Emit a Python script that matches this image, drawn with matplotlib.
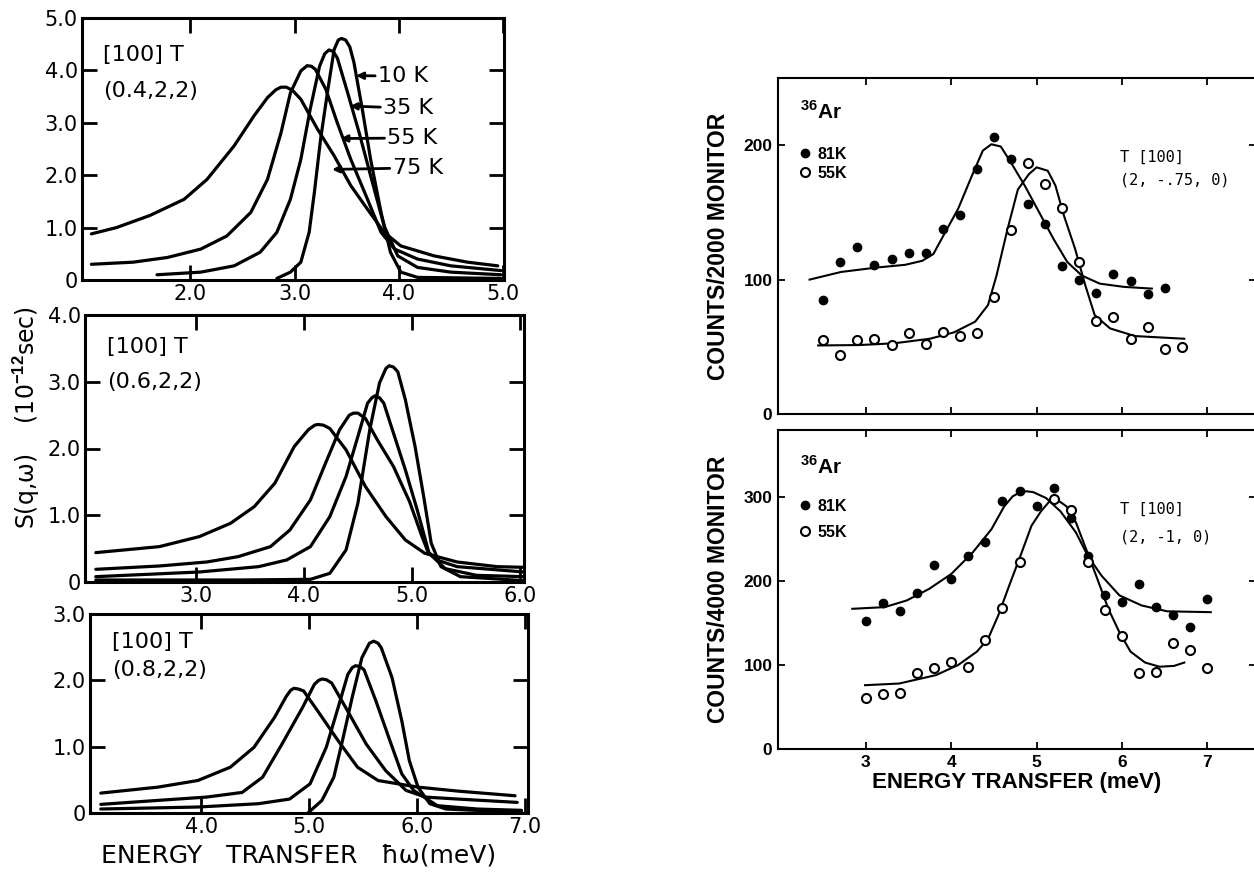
import matplotlib.pyplot as plt
import numpy as np

plt.rcParams['mathtext.fontset'] = 'custom'
plt.rcParams['mathtext.rm'] = 'Liberation Sans:bold'
plt.rcParams['mathtext.bf'] = 'Liberation Sans:bold'

# ---------------- left column: calculated line shapes ----------------
temps = ["10 K", "35 K", "55 K", "75 K"]

# (0.4,2,2)
p1_10K_x = [2.83, 2.96, 3.06, 3.14, 3.19, 3.25, 3.32, 3.38, 3.42, 3.45, 3.49, 3.53, 3.57, 3.65, 3.73, 3.83, 3.92, 4.02, 4.18, 4.98]
p1_10K_y = [0.03, 0.15, 0.34, 0.91, 1.67, 2.69, 3.64, 4.40, 4.58, 4.61, 4.58, 4.45, 4.15, 3.26, 2.30, 1.29, 0.53, 0.15, 0.05, 0.03]
p1_35K_x = [1.68, 2.10, 2.42, 2.67, 2.83, 2.96, 3.06, 3.15, 3.24, 3.29, 3.33, 3.37, 3.41, 3.51, 3.62, 3.73, 3.86, 3.99, 4.18, 4.50, 4.98]
p1_35K_y = [0.10, 0.15, 0.27, 0.53, 0.91, 1.54, 2.30, 3.26, 4.08, 4.32, 4.39, 4.36, 4.24, 3.57, 2.81, 1.99, 1.03, 0.46, 0.24, 0.15, 0.10]
p1_55K_x = [1.05, 1.45, 1.78, 2.10, 2.35, 2.58, 2.74, 2.87, 2.96, 3.06, 3.12, 3.16, 3.20, 3.30, 3.41, 3.54, 3.70, 3.83, 3.96, 4.18, 4.50, 4.98]
p1_55K_y = [0.30, 0.34, 0.43, 0.59, 0.84, 1.29, 1.92, 2.81, 3.57, 3.99, 4.09, 4.08, 4.02, 3.64, 3.00, 2.30, 1.54, 0.91, 0.59, 0.40, 0.27, 0.18]
p1_75K_x = [1.05, 1.29, 1.61, 1.94, 2.16, 2.42, 2.61, 2.74, 2.82, 2.87, 2.92, 2.98, 3.06, 3.22, 3.38, 3.54, 3.70, 3.86, 4.02, 4.34, 4.66, 4.95]
p1_75K_y = [0.88, 1.00, 1.23, 1.54, 1.92, 2.56, 3.13, 3.48, 3.63, 3.68, 3.68, 3.62, 3.45, 2.88, 2.37, 1.80, 1.35, 0.91, 0.65, 0.46, 0.34, 0.27]

# (0.6,2,2)
p2_10K_x = [2.07, 3.39, 4.06, 4.24, 4.39, 4.50, 4.61, 4.70, 4.76, 4.79, 4.83, 4.87, 4.94, 5.03, 5.11, 5.18, 5.27, 5.45, 6.04]
p2_10K_y = [0.03, 0.03, 0.04, 0.13, 0.48, 1.18, 2.28, 2.98, 3.20, 3.24, 3.22, 3.15, 2.73, 2.03, 1.28, 0.58, 0.23, 0.08, 0.02]
p2_35K_x = [2.07, 3.03, 3.58, 3.84, 4.06, 4.24, 4.39, 4.50, 4.59, 4.63, 4.66, 4.70, 4.74, 4.83, 4.94, 5.05, 5.16, 5.31, 5.60, 6.04]
p2_35K_y = [0.08, 0.15, 0.23, 0.33, 0.53, 0.98, 1.58, 2.18, 2.68, 2.76, 2.79, 2.76, 2.68, 2.23, 1.68, 1.08, 0.43, 0.20, 0.10, 0.08]
p2_55K_x = [2.07, 2.66, 3.10, 3.39, 3.69, 3.87, 4.06, 4.20, 4.33, 4.42, 4.46, 4.50, 4.57, 4.68, 4.83, 4.98, 5.09, 5.15, 5.25, 5.42, 6.04]
p2_55K_y = [0.19, 0.24, 0.30, 0.38, 0.53, 0.78, 1.23, 1.78, 2.28, 2.50, 2.53, 2.53, 2.45, 2.13, 1.73, 1.20, 0.70, 0.45, 0.32, 0.23, 0.15]
p2_75K_x = [2.07, 2.66, 3.03, 3.32, 3.54, 3.73, 3.91, 4.04, 4.10, 4.13, 4.18, 4.24, 4.39, 4.57, 4.76, 4.94, 5.12, 5.42, 5.79, 6.04]
p2_75K_y = [0.44, 0.53, 0.68, 0.88, 1.13, 1.48, 2.03, 2.28, 2.35, 2.36, 2.35, 2.30, 1.98, 1.43, 0.98, 0.63, 0.43, 0.30, 0.23, 0.22]

# (0.8,2,2)
p3_10K_x = [4.99, 5.12, 5.23, 5.31, 5.40, 5.49, 5.56, 5.60, 5.64, 5.67, 5.77, 5.86, 5.93, 6.01, 6.12, 6.27, 6.97]
p3_10K_y = [0.00, 0.19, 0.54, 1.09, 1.74, 2.34, 2.56, 2.59, 2.56, 2.49, 2.04, 1.39, 0.79, 0.39, 0.14, 0.06, 0.01]
p3_35K_x = [3.07, 3.97, 4.53, 4.82, 5.01, 5.16, 5.27, 5.36, 5.40, 5.43, 5.47, 5.51, 5.62, 5.75, 5.86, 5.97, 6.19, 6.56, 6.97]
p3_35K_y = [0.06, 0.09, 0.14, 0.21, 0.44, 0.99, 1.59, 2.09, 2.19, 2.22, 2.21, 2.16, 1.69, 1.09, 0.59, 0.34, 0.11, 0.06, 0.04]
p3_55K_x = [3.07, 3.60, 4.05, 4.38, 4.57, 4.75, 4.94, 5.05, 5.09, 5.12, 5.16, 5.21, 5.34, 5.53, 5.71, 5.90, 6.08, 6.38, 6.93]
p3_55K_y = [0.13, 0.19, 0.24, 0.31, 0.54, 1.04, 1.59, 1.94, 2.00, 2.02, 2.01, 1.96, 1.59, 1.04, 0.64, 0.34, 0.24, 0.21, 0.16]
p3_75K_x = [3.07, 3.60, 3.97, 4.27, 4.49, 4.68, 4.79, 4.83, 4.86, 4.90, 4.95, 5.08, 5.27, 5.45, 5.64, 6.01, 6.38, 6.91]
p3_75K_y = [0.30, 0.39, 0.49, 0.69, 0.99, 1.44, 1.76, 1.85, 1.88, 1.87, 1.84, 1.54, 1.09, 0.69, 0.49, 0.39, 0.33, 0.26]

p1_xticks = [2.0, 3.0, 4.0, 5.0]
p2_xticks = [3.0, 4.0, 5.0, 6.0]
p3_xticks = [4.0, 5.0, 6.0, 7.0]
p1_yticks = [0, 1.0, 2.0, 3.0, 4.0, 5.0]
p2_yticks = [0, 1.0, 2.0, 3.0, 4.0]
p3_yticks = [0, 1.0, 2.0, 3.0]
q_labels = ["(0.4,2,2)", "(0.6,2,2)", "(0.8,2,2)"]

# arrow tips / label anchors for temperature labels in top panel (meV, S)
temp_tip_x = [3.59, 3.53, 3.44, 3.36]
temp_tip_y = [3.90, 3.32, 2.70, 2.11]
temp_txt_x = [3.80, 3.85, 3.89, 3.94]
temp_txt_y = [3.89, 3.28, 2.71, 2.14]

# ---------------- right column: measured 36Ar phonon groups ----------------
top_81K_E = [2.5, 2.7, 2.9, 3.1, 3.3, 3.5, 3.7, 3.9, 4.1, 4.3, 4.5, 4.7, 4.9, 5.1, 5.3, 5.5, 5.7, 5.9, 6.1, 6.3, 6.5]
top_81K_c = [85, 113, 124, 111, 115, 120, 120, 138, 148, 182, 206, 190, 156, 141, 110, 100, 90, 104, 99, 89, 94]
top_55K_E = [2.5, 2.7, 2.9, 3.1, 3.3, 3.5, 3.7, 3.9, 4.1, 4.3, 4.5, 4.7, 4.9, 5.1, 5.3, 5.5, 5.7, 5.9, 6.1, 6.3, 6.5, 6.7]
top_55K_c = [55, 44, 55, 56, 51, 60, 52, 61, 58, 60, 87, 137, 187, 171, 153, 113, 69, 72, 56, 65, 48, 50]
top_81K_fit_E = [2.34, 2.71, 3.13, 3.46, 3.66, 3.79, 3.91, 4.08, 4.24, 4.37, 4.47, 4.58, 4.70, 4.86, 5.03, 5.20, 5.36, 5.53, 5.74, 6.02, 6.35]
top_81K_fit_c = [100, 105.7, 109, 111, 114, 119, 133, 152.6, 177, 196, 200.7, 199, 187, 170, 150, 130, 113, 103, 97, 94.6, 93.3]
top_55K_fit_E = [2.44, 2.92, 3.33, 3.75, 4.03, 4.28, 4.43, 4.53, 4.66, 4.78, 4.91, 5.00, 5.13, 5.22, 5.32, 5.45, 5.57, 5.68, 5.86, 6.15, 6.73]
top_55K_fit_c = [51, 51.3, 52.6, 56, 60.7, 68.7, 81, 103, 137.8, 167, 178.5, 183.5, 181, 170, 147.6, 123, 95.8, 73.6, 63.7, 58, 56]

bot_81K_E = [3.0, 3.2, 3.4, 3.6, 3.8, 4.0, 4.2, 4.4, 4.6, 4.8, 5.0, 5.2, 5.4, 5.6, 5.8, 6.0, 6.2, 6.4, 6.6, 6.8, 7.0]
bot_81K_c = [153, 174, 164, 186, 219, 203, 230, 247, 296, 307, 289, 311, 275, 230, 184, 175, 196, 169, 160, 145, 179]
bot_55K_E = [3.0, 3.2, 3.4, 3.6, 3.8, 4.0, 4.2, 4.4, 4.6, 4.8, 5.2, 5.4, 5.6, 5.8, 6.0, 6.2, 6.4, 6.6, 6.8, 7.0]
bot_55K_c = [61, 66, 67, 91, 96, 104, 98, 130, 168, 223, 298, 285, 223, 166, 135, 91, 92, 126, 118, 97]
bot_81K_fit_E = [2.84, 3.22, 3.48, 3.74, 4.00, 4.25, 4.47, 4.62, 4.72, 4.81, 4.88, 4.96, 5.11, 5.28, 5.46, 5.60, 5.76, 5.97, 6.23, 6.53, 7.04]
bot_81K_fit_c = [167, 169, 177, 190.7, 208.5, 234, 261.7, 289, 301, 306, 307, 306, 299, 283, 258, 230, 206.5, 183, 171, 164, 163]
bot_55K_fit_E = [2.99, 3.39, 3.82, 4.08, 4.30, 4.43, 4.55, 4.68, 4.81, 4.94, 5.05, 5.15, 5.20, 5.24, 5.35, 5.46, 5.58, 5.71, 5.84, 5.97, 6.10, 6.27, 6.44, 6.61, 6.73]
bot_55K_fit_c = [76, 78, 88, 100, 116, 131, 159, 195, 230, 266, 283, 295, 298, 297, 289, 270, 238, 203, 167, 139, 116, 103, 98, 99, 103]

right_xticks = [3, 4, 5, 6, 7]

W, H = 1254, 873
fig = plt.figure(figsize=(W / 100, H / 100), dpi=100)


def box(l, t, r, b):
    return [l / W, 1 - b / H, (r - l) / W, (b - t) / H]


LW = 2.3
left_font = 'DejaVu Sans'

ax1 = fig.add_axes(box(82, 18, 504, 280))
ax2 = fig.add_axes(box(85, 315, 524, 582))
ax3 = fig.add_axes(box(90, 614, 528, 813))

panels = [
    (ax1, [(p1_10K_x, p1_10K_y), (p1_35K_x, p1_35K_y), (p1_55K_x, p1_55K_y), (p1_75K_x, p1_75K_y)],
     (0.96, 5.01), (0, 5.0), p1_xticks, p1_yticks),
    (ax2, [(p2_10K_x, p2_10K_y), (p2_35K_x, p2_35K_y), (p2_55K_x, p2_55K_y), (p2_75K_x, p2_75K_y)],
     (1.97, 6.04), (0, 4.0), p2_xticks, p2_yticks),
    (ax3, [(p3_10K_x, p3_10K_y), (p3_35K_x, p3_35K_y), (p3_55K_x, p3_55K_y), (p3_75K_x, p3_75K_y)],
     (2.97, 7.03), (0, 3.0), p3_xticks, p3_yticks),
]

for i, (ax, curves, xl, yl, xt, yt) in enumerate(panels):
    for cx, cy in curves:
        ax.plot(cx, cy, 'k-', lw=LW, solid_joinstyle='round', solid_capstyle='round')
    ax.set_xlim(*xl)
    ax.set_ylim(*yl)
    ax.set_xticks(xt)
    ax.set_yticks(yt)
    ax.set_xticklabels(["%.1f" % v for v in xt], fontsize=15, family=left_font)
    ax.set_yticklabels(["0" if v == 0 else "%.1f" % v for v in yt], fontsize=15, family=left_font)
    ax.tick_params(direction='in', length=11, width=2, top=True, right=True, pad=3)
    for s in ax.spines.values():
        s.set_linewidth(2.2)
    ax.text(0.05, 0.86 if i != 1 else 0.88, "[100] T", transform=ax.transAxes, fontsize=16,
            family=left_font, va='center')
    ax.text(0.05, 0.72 if i != 1 else 0.75, q_labels[i], transform=ax.transAxes, fontsize=16,
            family=left_font, va='center')

for lab, tx, ty, ax_, ay_ in zip(temps, temp_txt_x, temp_txt_y, temp_tip_x, temp_tip_y):
    ax1.annotate(lab, xy=(ax_, ay_), xytext=(tx, ty), fontsize=16, family=left_font, va='center',
                 arrowprops=dict(arrowstyle='-|>', color='k', lw=2, shrinkA=0, shrinkB=0,
                                 mutation_scale=10))

fig.text(299 / W, 1 - 855 / H, "ENERGY   TRANSFER   \u0127\u03c9(meV)", fontsize=18,
         family=left_font, ha='center', va='center')
fig.text(27 / W, 1 - 418 / H, "S(q,\u03c9)    (10$^{-12}$sec)", fontsize=17, family=left_font,
         rotation=90, ha='center', va='center')

# ---------------- right column ----------------
rfont = 'Liberation Sans'
axt = fig.add_axes(box(778, 78, 1256, 414))
axb = fig.add_axes(box(778, 430, 1256, 749))

right = [
    (axt, top_81K_E, top_81K_c, top_55K_E, top_55K_c, top_81K_fit_E, top_81K_fit_c,
     top_55K_fit_E, top_55K_fit_c, (0, 250), [0, 100, 200], "COUNTS/2000 MONITOR", "(2, -.75, 0)"),
    (axb, bot_81K_E, bot_81K_c, bot_55K_E, bot_55K_c, bot_81K_fit_E, bot_81K_fit_c,
     bot_55K_fit_E, bot_55K_fit_c, (0, 380), [0, 100, 200, 300], "COUNTS/4000 MONITOR", "(2, -1, 0)"),
]

for j, (ax, e81, c81, e55, c55, f81x, f81y, f55x, f55y, yl, yt, ylab, qlab) in enumerate(right):
    ax.plot(f81x, f81y, 'k-', lw=1.5)
    ax.plot(f55x, f55y, 'k-', lw=1.5)
    h81, = ax.plot(e81, c81, 'o', ms=6, mfc='k', mec='k', ls='none', label='81K')
    h55, = ax.plot(e55, c55, 'o', ms=6.5, mfc='white', mec='k', mew=1.5, ls='none', label='55K')
    ax.set_xlim(1.97, 7.57)
    ax.set_ylim(*yl)
    ax.set_xticks(right_xticks)
    ax.set_yticks(yt)
    ax.set_yticklabels([str(v) for v in yt], fontsize=12.5, family=rfont, fontweight='bold')
    if j == 0:
        ax.set_xticklabels([])
    else:
        ax.set_xticklabels([str(v) for v in right_xticks], fontsize=12.5, family=rfont,
                           fontweight='bold')
        ax.set_xlabel("ENERGY TRANSFER (meV)", fontsize=16, family=rfont, fontweight='bold',
                      labelpad=2)
    ax.tick_params(direction='in', length=5, width=1.3, top=True, right=True, pad=4)
    for s in ax.spines.values():
        s.set_linewidth(1.5)
    ax.set_ylabel(ylab, fontsize=16.5, family=rfont, fontweight='bold')
    ax.yaxis.set_label_coords(-0.10, 0.5)
    ax.text(0.045, 0.90 if j == 0 else 0.885, "$^{36}$Ar", transform=ax.transAxes, fontsize=15,
            family=rfont, fontweight='bold', va='center')
    ax.legend(handles=[h81, h55], loc='upper left',
              bbox_to_anchor=(0.045, 0.795 if j == 0 else 0.785), frameon=False,
              borderaxespad=0, borderpad=0, handlelength=0.7, handletextpad=0.4,
              labelspacing=0.25 if j == 0 else 0.7,
              prop={'family': rfont, 'weight': 'bold', 'size': 11.5})
    ax.text(0.715, 0.765 if j == 0 else 0.752, "T [100]", transform=ax.transAxes, fontsize=11,
            family='DejaVu Sans Mono', va='center')
    ax.text(0.715, 0.696 if j == 0 else 0.665, qlab, transform=ax.transAxes, fontsize=11,
            family='DejaVu Sans Mono', va='center')

fig.savefig("out.png", dpi=100)
